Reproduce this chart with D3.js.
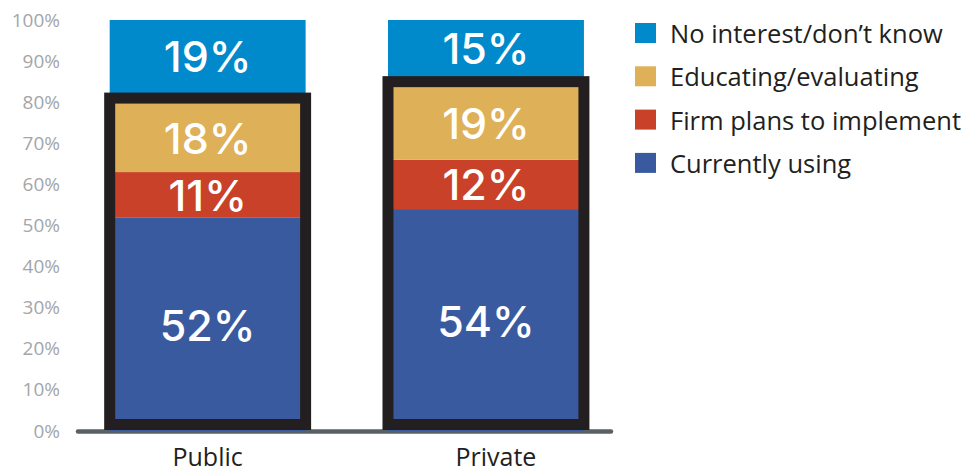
<!DOCTYPE html>
<html>
<head>
<meta charset="utf-8">
<script src="https://cdn.jsdelivr.net/npm/d3@7"></script>
<style>
  html, body { margin: 0; padding: 0; background: #ffffff; }
  svg { display: block; }
</style>
</head>
<body>
<svg id="chart" width="968" height="474"></svg>
<script>
// Adoption status by company type (percent of respondents)
const categories = ["Public", "Private"];
const currentlyUsing = [52, 54];
const firmPlans = [11, 12];
const educating = [18, 19];
const noInterest = [19, 15];
const seriesNames = ["Currently using", "Firm plans to implement", "Educating/evaluating", "No interest/don\u2019t know"];
const seriesColors = ["#3a5a9f", "#c84128", "#deb058", "#0089cb"];
const yTicks = [0, 10, 20, 30, 40, 50, 60, 70, 80, 90, 100];

const svg = d3.select("#chart");

const y = d3.scaleLinear().domain([0, 100]).range([431, 20]);
const x = d3.scaleBand().domain(categories).range([27.3, 666.3]).padding(0.296);
const bw = x.bandwidth();
const frameW = 11;
const frameColor = "#231f20";

// y axis labels only (no line, no tick marks)
const yAxis = d3.axisLeft(y).tickValues(yTicks).tickFormat(d => d + "%").tickSize(0).tickPadding(0);
const gy = svg.append("g").attr("transform", "translate(60,0)").call(yAxis);
gy.select(".domain").remove();
gy.selectAll("text")
  .attr("fill", "#a4a6a9")
  .style("font-family", "'Open Sans', sans-serif")
  .style("font-size", "19px");

// baseline
svg.append("line")
  .attr("x1", 78).attr("x2", 611)
  .attr("y1", y(0) + 0.5).attr("y2", y(0) + 0.5)
  .attr("stroke", "#586265").attr("stroke-width", 4.5).attr("stroke-linecap", "round");

const series = [currentlyUsing, firmPlans, educating, noInterest];

categories.forEach((cat, i) => {
  const x0 = x(cat);
  const cx = x0 + bw / 2;
  const vals = series.map(s => s[i]);
  const cum = [0];
  vals.forEach((v, k) => cum.push(cum[k] + v));
  const framedTop = cum[3];

  // stacked segments
  vals.forEach((v, k) => {
    svg.append("rect")
      .attr("x", x0).attr("width", bw)
      .attr("y", y(cum[k + 1]))
      .attr("height", y(cum[k]) - y(cum[k + 1]))
      .attr("fill", seriesColors[k]);
  });

  // heavy frame around the first three segments
  const frameBottom = y(0) - 1 - frameW / 2;
  svg.append("rect")
    .attr("x", x0).attr("width", bw)
    .attr("y", y(framedTop))
    .attr("height", frameBottom - y(framedTop))
    .attr("fill", "none")
    .attr("stroke", frameColor)
    .attr("stroke-width", frameW);

  // value labels, centred on the visible part of each segment
  vals.forEach((v, k) => {
    let lo = y(cum[k]), hi = y(cum[k + 1]);
    if (k === 0) lo = frameBottom - frameW / 2;
    if (k === 2) hi = y(cum[3]) + frameW / 2;
    if (k === 3) lo = y(cum[3]) - frameW / 2;
    let cy = (lo + hi) / 2;
    if (k === 0) cy += 7;
    svg.append("text")
      .attr("x", cx).attr("y", cy)
      .attr("text-anchor", "middle")
      .attr("dominant-baseline", "central")
      .attr("fill", "#ffffff")
      .style("font-family", "Inter, sans-serif")
      .style("font-weight", "500")
      .style("font-size", "43px")
      .text(v + "%");
  });

  // category label
  svg.append("text")
    .attr("x", cx).attr("dx", i === 1 ? 10 : 0).attr("y", 466)
    .attr("text-anchor", "middle")
    .attr("fill", frameColor)
    .style("font-family", "'Open Sans', sans-serif")
    .style("font-size", "25px")
    .text(cat);
});

// legend, top entry first
const legend = svg.append("g").attr("transform", "translate(635,33)");
const legendOrder = [3, 2, 1, 0];
legendOrder.forEach((k, j) => {
  const g = legend.append("g").attr("transform", `translate(0,${j * 43.3})`);
  g.append("rect").attr("x", 0).attr("y", -10).attr("width", 21).attr("height", 20).attr("fill", seriesColors[k]);
  g.append("text")
    .attr("x", 35).attr("y", 0)
    .attr("dominant-baseline", "central")
    .attr("fill", frameColor)
    .style("font-family", "'Open Sans', sans-serif")
    .style("font-size", "25.5px")
    .text(seriesNames[k]);
});
</script>
</body>
</html>
